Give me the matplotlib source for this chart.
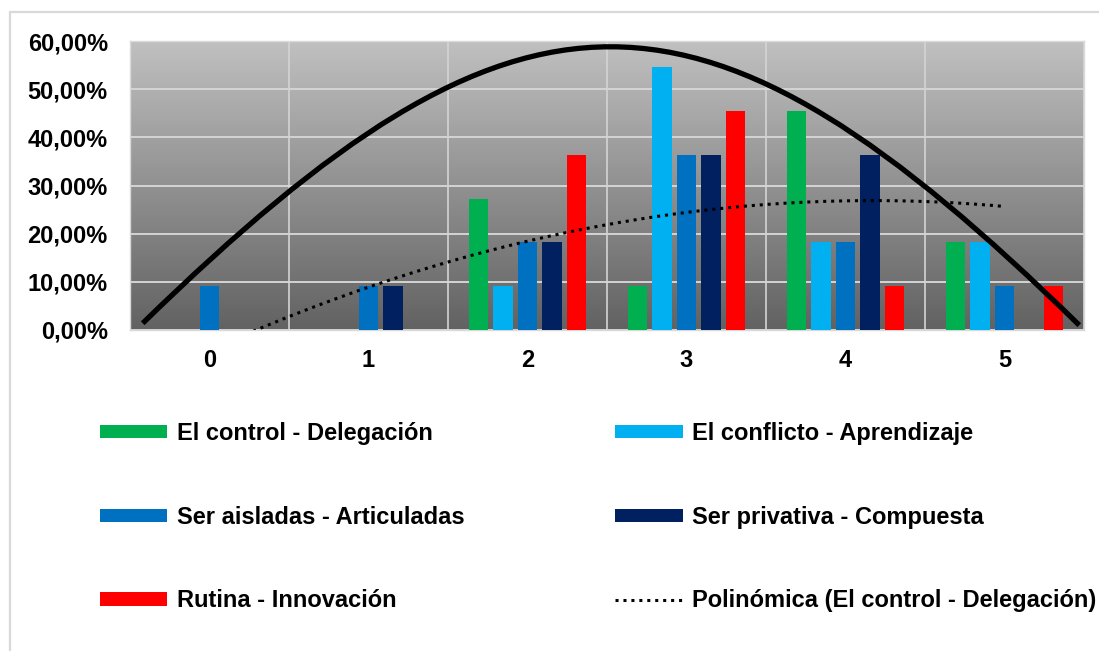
import numpy as np
import matplotlib
matplotlib.use("Agg")
import matplotlib.pyplot as plt
from matplotlib.path import Path
from matplotlib.patches import PathPatch, Rectangle
from matplotlib.ticker import FuncFormatter, MultipleLocator

# ---- data -------------------------------------------------------------
categories = ["0", "1", "2", "3", "4", "5"]
series_names = [
    "El control - Delegación",
    "El conflicto - Aprendizaje",
    "Ser aisladas - Articuladas",
    "Ser privativa - Compuesta",
    "Rutina - Innovación",
]
control_delegacion = [0.00, 0.00, 27.27, 9.09, 45.45, 18.18]
conflicto_aprendizaje = [0.00, 0.00, 9.09, 54.55, 18.18, 18.18]
aisladas_articuladas = [9.09, 9.09, 18.18, 36.36, 18.18, 9.09]
privativa_compuesta = [0.00, 9.09, 18.18, 36.36, 36.36, 0.00]
rutina_innovacion = [0.00, 0.00, 36.36, 45.45, 9.09, 9.09]
series_colors = ["#00B050", "#00B0F0", "#0070C0", "#002060", "#FF0000"]
trend_label = "Polinómica (El control - Delegación)"

# freehand arc drawn over the chart: cubic Bezier (anchor, control, control, anchor)
arc_x = [-0.42, 1.96, 3.09, 5.47]
arc_y = [1.4, 78.0, 78.0, 1.0]

# ---- styling ----------------------------------------------------------
plt.rcParams["font.family"] = ["Liberation Sans", "DejaVu Sans"]
plt.rcParams["font.weight"] = "bold"
FS = 17

W, H = 1099, 651
fig = plt.figure(figsize=(W / 100, H / 100), dpi=100)
fig.patch.set_facecolor("white")

ax = fig.add_axes([130 / W, 1 - 330 / H, (1084 - 130) / W, (330 - 41) / H])

# vertical grey gradient for the plot area
grad = np.linspace(0, 1, 256).reshape(-1, 1)
top_rgb = np.array([192, 192, 192]) / 255
bot_rgb = np.array([98, 98, 98]) / 255
img = top_rgb[None, None, :] * (1 - grad[:, :, None]) + bot_rgb[None, None, :] * grad[:, :, None]
ax.imshow(img, extent=[0, 1, 0, 1], transform=ax.transAxes, aspect="auto",
          zorder=0, interpolation="bicubic")

x = np.arange(len(categories))
all_series = [control_delegacion, conflicto_aprendizaje, aisladas_articuladas,
              privativa_compuesta, rutina_innovacion]
bar_w = 0.12
step = 0.154
bars = []
for i, (vals, name, col) in enumerate(zip(all_series, series_names, series_colors)):
    b = ax.bar(x + (i - 2) * step, vals, width=bar_w, color=col, label=name, zorder=3)
    bars.append(b)

# second-order polynomial trend of the first series
coef = np.polyfit(x, control_delegacion, 2)
xt = np.linspace(x[0], x[-1], 300)
trend, = ax.plot(xt, np.polyval(coef, xt), color="black", lw=2.2,
                 linestyle=(0, (1, 1.6)), zorder=4, label=trend_label)

# freehand arc
arc_path = Path(list(zip(arc_x, arc_y)),
                [Path.MOVETO, Path.CURVE4, Path.CURVE4, Path.CURVE4])
ax.add_patch(PathPatch(arc_path, facecolor="none", edgecolor="black", lw=3.8,
                       capstyle="butt", zorder=5))

# axes, grid and ticks
ax.set_xlim(-0.5, 5.5)
ax.set_ylim(0, 60)
ax.yaxis.set_major_locator(MultipleLocator(10))
ax.yaxis.set_major_formatter(FuncFormatter(lambda v, p: f"{v:.2f}%".replace(".", ",")))
ax.set_xticks(x)
ax.set_xticklabels(categories)
ax.set_xticks(np.arange(-0.5, 5.6, 1), minor=True)
ax.grid(True, which="major", axis="y", color="#d4d4d4", lw=1.4, zorder=1)
ax.grid(True, which="minor", axis="x", color="#d4d4d4", lw=1.2, zorder=1)
ax.tick_params(axis="both", which="both", length=0)
ax.tick_params(axis="y", pad=16, labelsize=FS)
ax.tick_params(axis="x", pad=14, labelsize=FS)
for s in ax.spines.values():
    s.set_color("#d9d9d9")
    s.set_linewidth(1.0)
ax.set_axisbelow(True)

# legend: two columns, row-wise order
order = [0, 2, 4, 1, 3]
handles = [bars[i] for i in order[:3]] + [bars[i] for i in order[3:]] + [trend]
labels = [series_names[i] for i in order[:3]] + [series_names[i] for i in order[3:]] + [trend_label]
leg = fig.legend(handles, labels, ncol=2, loc="upper left",
                 bbox_to_anchor=(100 / W, 1 - 422 / H), frameon=False,
                 fontsize=FS, handlelength=2.85, handleheight=0.5,
                 handletextpad=0.4, labelspacing=2.57, columnspacing=6.4,
                 borderpad=0, borderaxespad=0)

# outer chart frame (extends past the right and bottom edges)
fig.add_artist(Rectangle((10 / W, -0.2), 1.2, 1.2 - 12 / H,
                         transform=fig.transFigure, facecolor="none",
                         edgecolor="#d9d9d9", lw=1.6, zorder=0))

fig.savefig("out.png", dpi=100)
